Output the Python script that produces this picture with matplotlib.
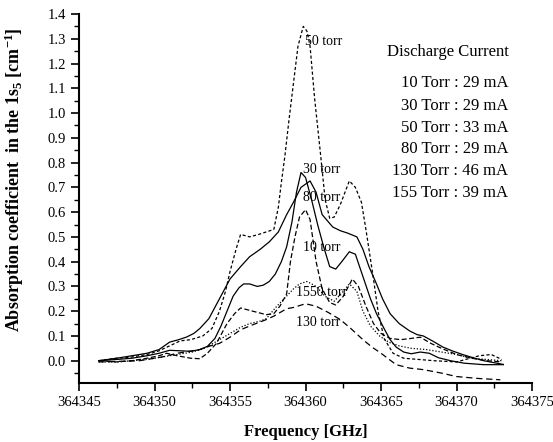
import matplotlib
matplotlib.use('Agg')
import matplotlib.pyplot as plt
import numpy as np

plt.rcParams['font.family'] = 'serif'
plt.rcParams['font.serif'] = ['Liberation Serif', 'DejaVu Serif']
plt.rcParams['mathtext.default'] = 'regular'

# frequency offsets are added to 364345 GHz base below
f0 = 364345

x_30 = [1.3, 2.5, 3.5, 4.5, 5.3, 6.0, 6.7, 7.4, 8.0, 8.5, 9.0, 9.4, 9.8, 10.2, 10.6, 10.9,
        11.3, 11.8, 12.2, 12.6, 13.0, 13.4, 13.75, 14.1, 14.4, 14.7, 15.0, 15.4, 15.8, 16.2,
        16.6, 17.0, 17.4, 17.9, 18.3, 18.8, 19.3, 19.7, 20.2, 20.6, 21.0, 21.5, 22.0, 22.6,
        23.2, 23.8, 24.6, 25.5, 26.8, 28.1]
y_30 = [0.0, 0.005, 0.01, 0.02, 0.03, 0.042, 0.04, 0.038, 0.045, 0.058, 0.09, 0.14, 0.2,
        0.26, 0.295, 0.31, 0.31, 0.30, 0.305, 0.32, 0.35, 0.40, 0.46, 0.56, 0.68, 0.76, 0.74,
        0.65, 0.55, 0.46, 0.38, 0.37, 0.40, 0.44, 0.43, 0.34, 0.25, 0.19, 0.13, 0.085, 0.055,
        0.035, 0.028, 0.035, 0.03, 0.012, 0.0, -0.01, -0.016, -0.016]

x_80 = [1.3, 2.5, 3.5, 4.5, 5.3, 6.0, 6.6, 7.1, 7.6, 8.0, 8.6, 9.3, 10.0, 10.7, 11.3, 12.0,
        12.6, 13.2, 13.75, 14.2, 14.7, 15.3, 15.7, 16.1, 16.8, 17.3, 17.8, 18.4, 18.8, 19.2,
        19.7, 20.1, 20.6, 21.2, 21.9, 22.4, 22.8, 23.4, 24.1, 24.7, 25.4, 26.1, 26.8, 28.1]
y_80 = [0.0, 0.01, 0.02, 0.03, 0.045, 0.075, 0.085, 0.095, 0.11, 0.13, 0.17, 0.25, 0.33,
        0.38, 0.42, 0.45, 0.48, 0.52, 0.59, 0.64, 0.70, 0.726, 0.68, 0.59, 0.54, 0.525, 0.515,
        0.50, 0.45, 0.38, 0.31, 0.25, 0.19, 0.15, 0.12, 0.105, 0.10, 0.08, 0.055, 0.04, 0.025,
        0.012, 0.0, -0.015]

x_50 = [1.3, 2.5, 3.5, 4.5, 5.3, 6.0, 6.7, 7.4, 8.2, 8.8, 9.3, 9.7, 10.0, 10.4, 10.7, 11.3,
        11.9, 12.4, 12.9, 13.2, 13.4, 13.64, 13.9, 14.2, 14.5, 14.85, 15.1, 15.3, 15.6, 16.0,
        16.3, 16.6, 16.9, 17.3, 17.9, 18.3, 18.7, 19.0, 19.2, 19.5, 19.8, 20.2, 20.8, 21.5,
        22.5, 23.5, 25.0, 26.5, 27.3, 28.0]
y_50 = [0.0, 0.01, 0.015, 0.025, 0.04, 0.06, 0.08, 0.085, 0.1, 0.13, 0.2, 0.28, 0.36, 0.45,
        0.51, 0.50, 0.51, 0.52, 0.53, 0.62, 0.72, 0.83, 0.97, 1.12, 1.27, 1.35, 1.33, 1.27,
        1.06, 0.83, 0.65, 0.575, 0.58, 0.63, 0.726, 0.70, 0.64, 0.53, 0.45, 0.33, 0.2, 0.09,
        0.03, 0.01, 0.005, 0.0, -0.005, 0.02, 0.025, 0.005]

x_10 = [1.3, 2.5, 3.5, 4.5, 5.3, 5.8, 6.5, 7.4, 8.0, 8.5, 9.1, 9.8, 10.3, 10.7, 11.5, 12.4,
        12.9, 13.3, 13.75, 14.0, 14.3, 14.6, 15.0, 15.3, 15.7, 16.1, 16.6, 17.0, 17.5, 18.1,
        18.5, 19.0, 19.5, 20.0, 20.6, 21.3, 22.0, 22.6, 23.3, 24.0, 25.0, 26.0, 27.0, 28.0]
y_10 = [0.0, -0.005, 0.0, 0.01, 0.02, 0.03, 0.02, 0.01, 0.008, 0.03, 0.07, 0.15, 0.19,
        0.213, 0.20, 0.186, 0.19, 0.22, 0.27, 0.40, 0.50, 0.58, 0.61, 0.57, 0.40, 0.29, 0.235,
        0.225, 0.26, 0.33, 0.30, 0.22, 0.15, 0.11, 0.09, 0.085, 0.09, 0.095, 0.07, 0.05,
        0.025, 0.01, 0.0, -0.005]

x_155 = [1.3, 2.5, 3.5, 4.5, 5.5, 6.5, 7.5, 8.3, 9.3, 10.0, 10.7, 11.3, 12.0, 12.4, 13.1,
         13.5, 14.2, 14.6, 15.1, 15.7, 16.3, 16.9, 17.5, 17.9, 18.4, 18.8, 19.3, 19.9, 20.5,
         21.2, 22.0, 23.0, 24.0, 25.0, 26.0, 27.0, 28.0]
y_155 = [-0.005, -0.005, 0.0, 0.005, 0.015, 0.025, 0.035, 0.05, 0.085, 0.11, 0.135, 0.15,
         0.16, 0.17, 0.22, 0.245, 0.29, 0.31, 0.32, 0.30, 0.26, 0.24, 0.28, 0.31, 0.28, 0.20,
         0.14, 0.1, 0.075, 0.06, 0.05, 0.045, 0.035, 0.025, 0.01, 0.005, 0.0]

x_130 = [1.3, 2.5, 4.0, 5.5, 6.5, 7.5, 8.0, 8.7, 9.3, 10.0, 10.7, 11.5, 12.4, 12.9, 13.75,
         14.2, 15.0, 15.7, 16.5, 17.3, 18.0, 18.8, 19.4, 20.0, 21.0, 21.9, 22.8, 24.0, 25.0,
         26.5, 27.9]
y_130 = [-0.005, -0.003, 0.0, 0.015, 0.03, 0.04, 0.045, 0.06, 0.07, 0.095, 0.125, 0.145,
         0.166, 0.18, 0.21, 0.215, 0.23, 0.22, 0.195, 0.166, 0.13, 0.085, 0.055, 0.03, -0.016,
         -0.03, -0.036, -0.05, -0.064, -0.072, -0.077]

curve_labels = ['50 torr', '30 torr', '80 torr', '10 torr', '1550 torr', '130 torr']
label_x = [14.97, 14.8, 14.8, 14.8, 14.4, 14.4]
label_y = [1.29, 0.773, 0.66, 0.457, 0.275, 0.154]

legend_title = 'Discharge Current'
legend_rows = ['10 Torr : 29 mA', '30 Torr : 29 mA', '50 Torr : 33 mA',
               '80 Torr : 29 mA', '130 Torr : 46 mA', '155 Torr : 39 mA']

fig = plt.figure(figsize=(5.53, 4.42), dpi=100)
ax = fig.add_axes([0.1429, 0.1335, 0.8192, 0.8348])

lw = 0.9
ax.plot(f0 + np.array(x_50), y_50, color='k', lw=lw, ls=(0, (2.5, 1.8)))
ax.plot(f0 + np.array(x_30), y_30, color='k', lw=lw)
ax.plot(f0 + np.array(x_80), y_80, color='k', lw=lw)
ax.plot(f0 + np.array(x_10), y_10, color='k', lw=lw, ls=(0, (4, 2)))
ax.plot(f0 + np.array(x_155), y_155, color='k', lw=lw, ls=(0, (1, 1.5)))
ax.plot(f0 + np.array(x_130), y_130, color='k', lw=lw, ls=(0, (5, 3)))

for t, lx, ly in zip(curve_labels, label_x, label_y):
    ax.text(f0 + lx, ly, t, fontsize=10, va='center', ha='left')

ax.text(0.68, 0.897, legend_title, transform=ax.transAxes, fontsize=12, va='center')
row_y = [83, 106, 128, 149, 171, 193]
for r, py in zip(legend_rows, row_y):
    ax.text(0.947, (383 - py) / 369, r, transform=ax.transAxes, fontsize=12,
            va='center', ha='right')

ax.set_xlim(364345, 364375)
ax.set_ylim(-0.09, 1.4)
ax.set_xticks(np.arange(364345, 364376, 5))
ax.set_xticks(np.arange(364345, 364376, 2.5), minor=True)
ax.set_yticks(np.round(np.arange(0, 1.41, 0.1), 1))
ax.set_yticks(np.arange(-0.05, 1.41, 0.05), minor=True)
ax.xaxis.set_major_formatter(matplotlib.ticker.FormatStrFormatter('%d'))
ax.yaxis.set_major_formatter(matplotlib.ticker.FormatStrFormatter('%.1f'))
ax.tick_params(which='major', direction='out', length=6, width=1.2, labelsize=10.5)
ax.tick_params(which='minor', direction='out', length=3.5, width=1.0)
ax.spines['top'].set_visible(False)
ax.spines['right'].set_visible(False)
ax.spines['left'].set_linewidth(1.5)
ax.spines['bottom'].set_linewidth(1.5)

ax.set_xlabel('Frequency [GHz]', fontsize=12, fontweight='bold')
ax.xaxis.set_label_coords(0.5, -0.11)
ax.set_ylabel('Absorption coefficient  in the 1s$_5$ [cm$^{-1}$]', fontsize=13,
              fontweight='bold')
ax.yaxis.set_label_coords(-0.118, 0.55)

fig.savefig('out.png', dpi=100)
